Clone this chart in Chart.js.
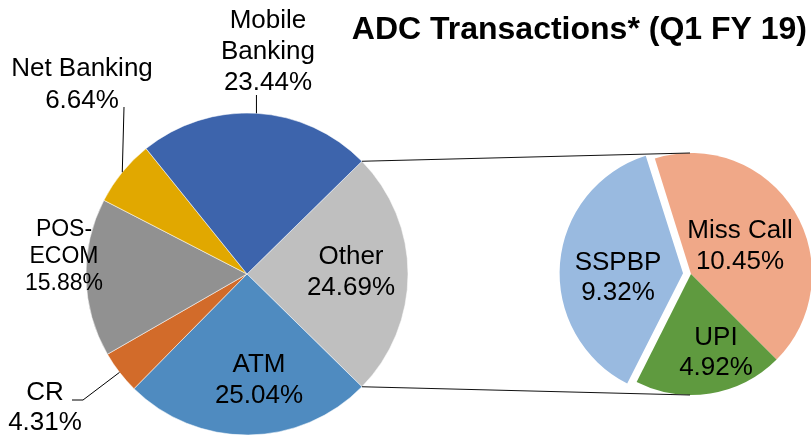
<!DOCTYPE html>
<html>
<head>
<meta charset="utf-8">
<script src="https://cdn.jsdelivr.net/npm/chart.js@4.4.1/dist/chart.umd.min.js"></script>
<style>
  html, body { margin: 0; padding: 0; background: #ffffff; }
  #wrap { position: relative; width: 811px; height: 436px; overflow: hidden; }
  #wrap canvas { position: absolute; left: 0; top: 0; }
</style>
</head>
<body>
<div id="wrap">
  <canvas id="mainPie" width="811" height="436"></canvas>
  <canvas id="detailPie" width="811" height="436"></canvas>
</div>
<script>
// ---- data ----
const chartTitle = 'ADC Transactions* (Q1 FY 19)';
const mainCategories = ['Other', 'ATM', 'CR', 'POS-ECOM', 'Net Banking', 'Mobile Banking'];
const mainShares = [24.69, 25.04, 4.31, 15.88, 6.64, 23.44];          // % of all ADC transactions
const detailCategories = ['Miss Call', 'UPI', 'SSPBP'];
const detailShares = [10.45, 4.92, 9.32];                            // breakdown of "Other", % of total

// ---- styling ----
const FONT = '"Liberation Sans", Arial, Helvetica, sans-serif';
const mainColors = ['#BFBFBF', '#4F8BC0', '#D26B2A', '#919191', '#E1A800', '#3D64AC'];
const detailColors = ['#F0A888', '#5F9A3F', '#99BAE0'];

// label placement, relative to each pie's centre
const mainLabelLayout = [
  { lines: ['Other'],            dx: 104,  dy: -4,   size: 26, lh: 31 },
  { lines: ['ATM'],              dx: 12,   dy: 104,  size: 26, lh: 31 },
  { lines: ['CR'],               dx: -202, dy: 132,  size: 26, lh: 30,
    leader: [[-175, 126], [-164, 126]] },
  { lines: ['POS-', 'ECOM'],     dx: -183, dy: -19,  size: 23, lh: 27 },
  { lines: ['Net Banking'],      dx: -165, dy: -191, size: 26, lh: 32,
    leader: [[-123, -167]] },
  { lines: ['Mobile', 'Banking'], dx: 21,  dy: -224, size: 26, lh: 31,
    leader: 'vertical', leaderTop: -179 }
];
const detailLabelLayout = [
  { lines: ['Miss Call'], dx: 49,  dy: -30, size: 26, lh: 31 },
  { lines: ['UPI'],       dx: 25,  dy: 77,  size: 26, lh: 30 },
  { lines: ['SSPBP'],     dx: -73, dy: 2,   size: 26, lh: 30 }
];

const pct = v => v.toFixed(2) + '%';
const sum = a => a.reduce((s, v) => s + v, 0);

function drawBlock(ctx, lines, cx, cy, size, lh) {
  ctx.save();
  ctx.font = size + 'px ' + FONT;
  ctx.fillStyle = '#000';
  ctx.textAlign = 'center';
  ctx.textBaseline = 'alphabetic';
  const cap = size * 0.716;
  const n = lines.length;
  lines.forEach((t, i) => {
    const mid = cy + (i - (n - 1) / 2) * lh;
    ctx.fillText(t, cx, mid + cap / 2);
  });
  ctx.restore();
}

function edgePoint(arc) {
  const mid = (arc.startAngle + arc.endAngle) / 2;
  return [arc.x + Math.cos(mid) * arc.outerRadius, arc.y + Math.sin(mid) * arc.outerRadius];
}

// Labels and leader lines for the main pie
const mainLabels = {
  id: 'mainLabels',
  afterDatasetsDraw(chart) {
    const ctx = chart.ctx;
    const arcs = chart.getDatasetMeta(0).data;
    const values = chart.data.datasets[0].data;
    arcs.forEach((arc, i) => {
      const L = mainLabelLayout[i];
      const cx = arc.x + L.dx, cy = arc.y + L.dy;
      drawBlock(ctx, L.lines.concat([pct(values[i])]), cx, cy, L.size, L.lh);
      if (L.leader) {
        const end = edgePoint(arc);
        ctx.save();
        ctx.strokeStyle = '#000';
        ctx.lineWidth = 1;
        ctx.beginPath();
        if (L.leader === 'vertical') {
          ctx.moveTo(end[0], arc.y + L.leaderTop);
        } else {
          L.leader.forEach((p, k) => {
            if (k === 0) ctx.moveTo(arc.x + p[0], arc.y + p[1]);
            else ctx.lineTo(arc.x + p[0], arc.y + p[1]);
          });
        }
        ctx.lineTo(end[0], end[1]);
        ctx.stroke();
        ctx.restore();
      }
    });
  }
};

const mainChart = new Chart(document.getElementById('mainPie'), {
  type: 'pie',
  data: {
    labels: mainCategories,
    datasets: [{
      data: mainShares,
      backgroundColor: mainColors,
      borderColor: 'rgba(255,255,255,0.7)',
      borderWidth: 0.75,
      hoverOffset: 0,
      clip: false
    }]
  },
  options: {
    responsive: false,
    animation: false,
    events: [],
    // "Other" is centred on the 3 o'clock direction
    rotation: 90 - mainShares[0] / sum(mainShares) * 180,
    radius: 161,
    layout: { padding: { left: 0, right: 317, top: 112, bottom: 0 } },
    plugins: { legend: { display: false }, tooltip: { enabled: false } }
  },
  plugins: [mainLabels]
});

// Labels, connector lines and title drawn over the breakdown pie
const detailOverlay = {
  id: 'detailOverlay',
  afterDatasetsDraw(chart) {
    const ctx = chart.ctx;
    const arcs = chart.getDatasetMeta(0).data;
    const values = chart.data.datasets[0].data;
    arcs.forEach((arc, i) => {
      const L = detailLabelLayout[i];
      drawBlock(ctx, L.lines.concat([pct(values[i])]), arc.x + L.dx, arc.y + L.dy, L.size, L.lh);
    });

    // connect the "Other" slice to the breakdown pie
    const other = mainChart.getDatasetMeta(0).data[0];
    const d = arcs[0];
    const r = d.outerRadius;
    ctx.save();
    ctx.strokeStyle = '#111';
    ctx.lineWidth = 1.1;
    ctx.beginPath();
    ctx.moveTo(other.x + Math.cos(other.startAngle) * other.outerRadius,
               other.y + Math.sin(other.startAngle) * other.outerRadius);
    ctx.lineTo(d.x - 1, d.y - r);
    ctx.moveTo(other.x + Math.cos(other.endAngle) * other.outerRadius,
               other.y + Math.sin(other.endAngle) * other.outerRadius);
    ctx.lineTo(d.x - 1, d.y + r);
    ctx.stroke();
    ctx.restore();

    // title
    ctx.save();
    ctx.font = 'bold 32px ' + FONT;
    ctx.fillStyle = '#000';
    ctx.textAlign = 'right';
    ctx.textBaseline = 'alphabetic';
    ctx.fillText(chartTitle, 807, 39);
    ctx.restore();
  }
};

const detailChart = new Chart(document.getElementById('detailPie'), {
  type: 'pie',
  data: {
    labels: detailCategories,
    datasets: [{
      data: detailShares,
      backgroundColor: detailColors,
      borderWidth: 0,
      hoverOffset: 0,
      offset: [0, 0, 32],
      clip: false
    }]
  },
  options: {
    responsive: false,
    animation: false,
    events: [],
    rotation: -17.4,
    radius: 121,
    layout: { padding: { left: 571, right: 0, top: 112, bottom: 0 } },
    plugins: { legend: { display: false }, tooltip: { enabled: false } }
  },
  plugins: [detailOverlay]
});
</script>
</body>
</html>
